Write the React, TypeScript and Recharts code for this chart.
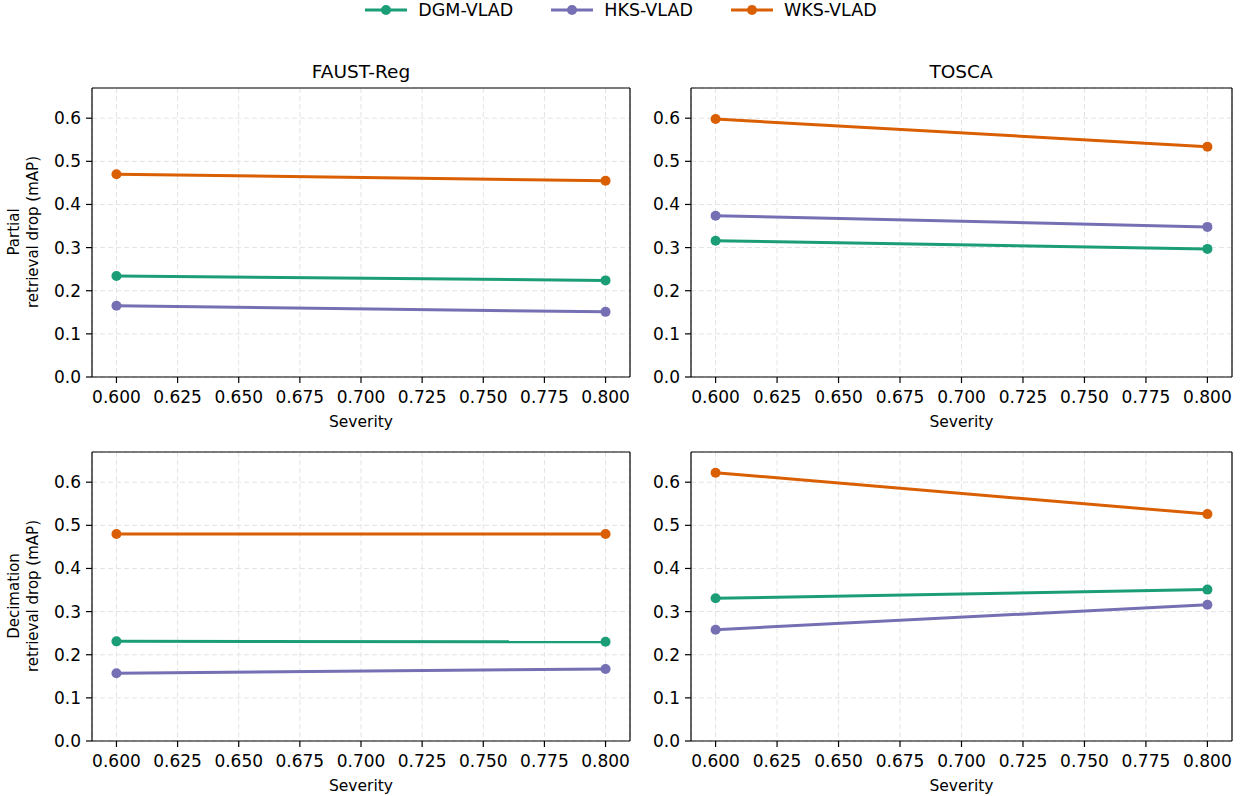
import React from 'react';
import { LineChart, Line, XAxis, YAxis, CartesianGrid, ReferenceLine } from 'recharts';

const severity = [0.6, 0.8];
const methods = ['DGM-VLAD', 'HKS-VLAD', 'WKS-VLAD'];
const colors = ['#1b9e77', '#7570b3', '#d95f02'];
const xTicks = [0.6, 0.625, 0.65, 0.675, 0.7, 0.725, 0.75, 0.775, 0.8];
const yTicks = [0, 0.1, 0.2, 0.3, 0.4, 0.5, 0.6];
const xDomain = [0.59, 0.81];
const yDomain = [0, 0.67];

const faustPartialDGM = [0.234, 0.224];
const faustPartialHKS = [0.165, 0.151];
const faustPartialWKS = [0.470, 0.455];

const toscaPartialDGM = [0.316, 0.297];
const toscaPartialHKS = [0.374, 0.348];
const toscaPartialWKS = [0.598, 0.534];

const faustDecimDGM = [0.231, 0.230];
const faustDecimHKS = [0.157, 0.167];
const faustDecimWKS = [0.480, 0.480];

const toscaDecimDGM = [0.331, 0.351];
const toscaDecimHKS = [0.258, 0.316];
const toscaDecimWKS = [0.622, 0.526];

const FONT = '"DejaVu Sans", sans-serif';
const keys = ['dgm', 'hks', 'wks'];

const buildRows = (dgm: number[], hks: number[], wks: number[]) =>
  severity.map((s, i) => ({ severity: s, dgm: dgm[i], hks: hks[i], wks: wks[i] }));

interface PanelProps {
  rows: any[];
  left: number;
  top: number;
  width: number;
  yAxisWidth: number;
  marginLeft: number;
}

// plot area is 289px tall: 10px top margin + 58px x-axis band
const Panel = ({ rows, left, top, width, yAxisWidth, marginLeft }: PanelProps) => (
  <div style={{ position: 'absolute', left, top }}>
    <LineChart
      width={width}
      height={357}
      data={rows}
      margin={{ top: 10, right: 10, left: marginLeft, bottom: 0 }}
    >
      <CartesianGrid stroke="#e3e3e3" strokeDasharray="5 3" strokeWidth={1} />
      <XAxis
        dataKey="severity"
        type="number"
        domain={xDomain}
        ticks={xTicks}
        interval={0}
        allowDataOverflow
        tickFormatter={(v) => v.toFixed(3)}
        height={58}
        tickSize={6}
        tickMargin={8}
        tick={{ fontSize: 17, fill: '#000', fontFamily: FONT }}
        axisLine={{ stroke: '#000', strokeWidth: 1.2 }}
        tickLine={{ stroke: '#000', strokeWidth: 1.2 }}
        label={{ value: 'Severity', position: 'insideBottom', offset: 8, fontSize: 15.5, fill: '#000', fontFamily: FONT }}
      />
      <YAxis
        type="number"
        domain={yDomain}
        ticks={yTicks}
        interval={0}
        allowDataOverflow
        width={yAxisWidth}
        tickFormatter={(v) => v.toFixed(1)}
        tickSize={6}
        tickMargin={5}
        tick={{ fontSize: 17, fill: '#000', fontFamily: FONT }}
        axisLine={{ stroke: '#000', strokeWidth: 1.2 }}
        tickLine={{ stroke: '#000', strokeWidth: 1.2 }}
      />
      <ReferenceLine y={yDomain[1]} stroke="#000" strokeWidth={1.2} />
      <ReferenceLine x={xDomain[1]} stroke="#000" strokeWidth={1.2} />
      {keys.map((k, i) => (
        <Line
          key={k}
          dataKey={k}
          name={methods[i]}
          type="linear"
          stroke={colors[i]}
          strokeWidth={3}
          dot={{ r: 5, fill: colors[i], stroke: colors[i], strokeWidth: 0 }}
          activeDot={false}
          isAnimationActive={false}
        />
      ))}
    </LineChart>
  </div>
);

const Title = ({ text, cx }: { text: string; cx: number }) => (
  <div
    style={{
      position: 'absolute',
      left: cx - 150,
      width: 300,
      top: 60,
      textAlign: 'center',
      fontSize: 18.5,
      fontFamily: FONT,
      color: '#000',
      lineHeight: '24px',
    }}
  >
    {text}
  </div>
);

const YLabel = ({ first, cy }: { first: string; cy: number }) => (
  <svg style={{ position: 'absolute', left: 0, top: 0 }} width={60} height={796}>
    <text
      x={14}
      y={cy}
      transform={`rotate(-90 14 ${cy})`}
      textAnchor="middle"
      dominantBaseline="central"
      fontSize={15}
      fontFamily={FONT}
      fill="#000"
    >
      {first}
    </text>
    <text
      x={33}
      y={cy}
      transform={`rotate(-90 33 ${cy})`}
      textAnchor="middle"
      dominantBaseline="central"
      fontSize={15}
      fontFamily={FONT}
      fill="#000"
    >
      retrieval drop (mAP)
    </text>
  </svg>
);

const Legend = () => (
  <div
    style={{
      position: 'absolute',
      left: 0,
      top: 0,
      width: 1242,
      height: 20,
      display: 'flex',
      justifyContent: 'center',
      alignItems: 'center',
      gap: 38,
      fontFamily: FONT,
      fontSize: 17.5,
    }}
  >
    {methods.map((m, i) => (
      <div key={m} style={{ display: 'flex', alignItems: 'center' }}>
        <svg width={42} height={14} style={{ marginRight: 11 }}>
          <line x1={0} y1={7} x2={42} y2={7} stroke={colors[i]} strokeWidth={3} />
          <circle cx={21} cy={7} r={5} fill={colors[i]} />
        </svg>
        <span style={{ color: '#000' }}>{m}</span>
      </div>
    ))}
  </div>
);

export default function App() {
  return (
    <div
      style={{
        position: 'absolute',
        left: 0,
        top: 0,
        width: 1242,
        height: 796,
        background: '#fff',
        overflow: 'hidden',
      }}
    >
      <Legend />
      <Title text="FAUST-Reg" cx={361} />
      <Title text="TOSCA" cx={961} />
      <YLabel first="Partial" cy={232} />
      <YLabel first="Decimation" cy={596} />
      <Panel rows={buildRows(faustPartialDGM, faustPartialHKS, faustPartialWKS)} left={0} top={78} width={640} yAxisWidth={50} marginLeft={42} />
      <Panel rows={buildRows(toscaPartialDGM, toscaPartialHKS, toscaPartialWKS)} left={640} top={78} width={602} yAxisWidth={45} marginLeft={6} />
      <Panel rows={buildRows(faustDecimDGM, faustDecimHKS, faustDecimWKS)} left={0} top={442} width={640} yAxisWidth={50} marginLeft={42} />
      <Panel rows={buildRows(toscaDecimDGM, toscaDecimHKS, toscaDecimWKS)} left={640} top={442} width={602} yAxisWidth={45} marginLeft={6} />
    </div>
  );
}
